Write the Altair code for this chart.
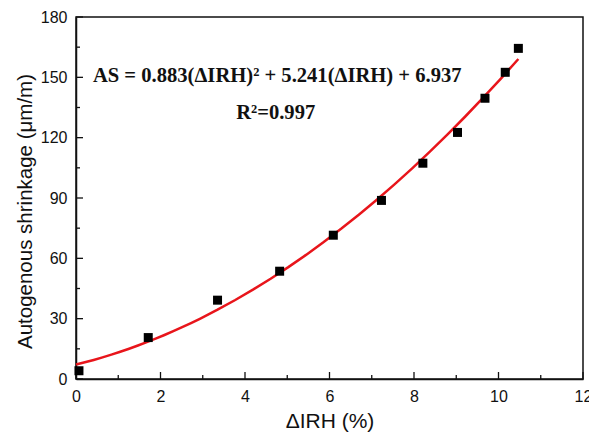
import altair as alt
import pandas as pd

# Measured data points (ΔIRH %, autogenous shrinkage µm/m)
irh = [0.07, 1.71, 3.35, 4.82, 6.09, 7.23, 8.21, 9.03, 9.68, 10.16, 10.47]
shrinkage = [4.1, 20.6, 39.2, 53.6, 71.5, 88.8, 107.3, 122.6, 139.6, 152.5, 164.4]

x_major = [0, 2, 4, 6, 8, 10, 12]
x_minor = [1, 3, 5, 7, 9, 11]
y_major = [0, 30, 60, 90, 120, 150, 180]
y_minor = [15, 45, 75, 105, 135, 165]

fit_extent = [0, 10.47]

ann_text = ["AS = 0.883(ΔIRH)² + 5.241(ΔIRH) + 6.937", "R²=0.997"]
ann_x = [0.40, 3.79]
ann_y = [150.5, 132.3]

W, H = 507, 362

df = pd.DataFrame({"x": irh, "y": shrinkage})
ann = pd.DataFrame({"t": ann_text, "x": ann_x, "y": ann_y})

xs = alt.Scale(domain=[0, 12], nice=False, zero=False)
ys = alt.Scale(domain=[0, 180], nice=False, zero=False)

label_font = "Liberation Sans"

x_axis = alt.Axis(values=x_major, ticks=False, grid=False, labelFont=label_font,
                  labelFontSize=16, labelColor="#111", labelPadding=9, labelFlush=False,
                  labelOverlap=False,
                  title="ΔIRH (%)", titleFont=label_font, titleFontSize=21,
                  titleFontWeight="normal", titleColor="#111", titlePadding=6,
                  domainColor="#111", domainWidth=1.5)
y_axis = alt.Axis(values=y_major, ticks=False, grid=False, labelFont=label_font,
                  labelFontSize=16, labelColor="#111", labelPadding=9, labelFlush=False,
                  labelOverlap=False,
                  title="Autogenous shrinkage (μm/m)", titleFont=label_font,
                  titleFontSize=20.5, titleFontWeight="normal", titleColor="#111",
                  titleX=-41, titleY=194, titleAlign="center", titleBaseline="bottom",
                  titleAngle=270,
                  domainColor="#111", domainWidth=1.5)

points = alt.Chart(df).mark_square(size=81, color="black", opacity=1).encode(
    x=alt.X("x:Q", scale=xs, axis=x_axis),
    y=alt.Y("y:Q", scale=ys, axis=y_axis),
)

fit = alt.Chart(df).transform_regression(
    "x", "y", method="poly", order=2, extent=fit_extent
).mark_line(color="#e8151b", strokeWidth=2.5).encode(
    x=alt.X("x:Q", scale=xs),
    y=alt.Y("y:Q", scale=ys),
)

xmaj = alt.Chart(pd.DataFrame({"v": x_major})).mark_rule(color="#111", strokeWidth=1.3).encode(
    x=alt.X("v:Q", scale=xs), y=alt.value(H), y2=alt.value(H - 7))
xmin = alt.Chart(pd.DataFrame({"v": x_minor})).mark_rule(color="#111", strokeWidth=1.3).encode(
    x=alt.X("v:Q", scale=xs), y=alt.value(H), y2=alt.value(H - 4))
ymaj = alt.Chart(pd.DataFrame({"v": y_major})).mark_rule(color="#111", strokeWidth=1.3).encode(
    y=alt.Y("v:Q", scale=ys), x=alt.value(0), x2=alt.value(7))
ymin = alt.Chart(pd.DataFrame({"v": y_minor})).mark_rule(color="#111", strokeWidth=1.3).encode(
    y=alt.Y("v:Q", scale=ys), x=alt.value(0), x2=alt.value(4))

text = alt.Chart(ann).mark_text(font="Liberation Serif", fontWeight="bold", fontSize=20.6,
                                align="left", baseline="middle", color="#111").encode(
    x=alt.X("x:Q", scale=xs), y=alt.Y("y:Q", scale=ys), text="t:N")

chart = alt.layer(xmaj, xmin, ymaj, ymin, fit, points, text).properties(
    width=W, height=H,
    autosize=alt.AutoSizeParams(type="none"),
    padding={"left": 76, "top": 17, "right": 6, "bottom": 53},
    background="white",
).configure_view(stroke="#111", strokeWidth=1.5)

chart.save("out.html", embed_options={"renderer": "svg", "actions": False})
